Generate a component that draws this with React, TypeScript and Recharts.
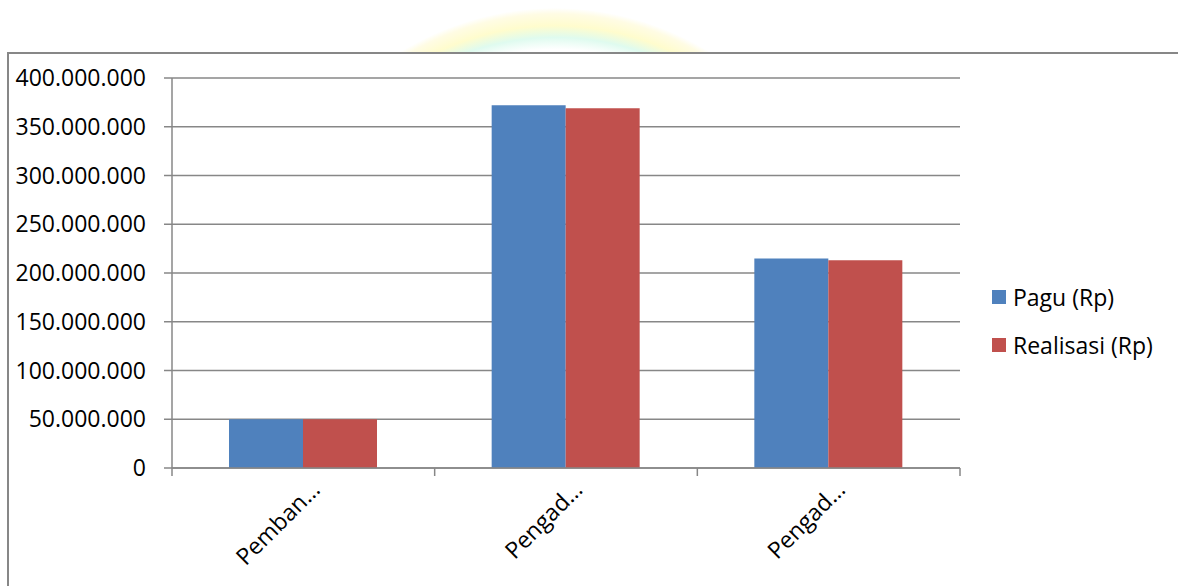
import React from 'react';
import { BarChart, Bar, XAxis, YAxis, CartesianGrid } from 'recharts';

const categories = ['Pemban…', 'Pengad…', 'Pengad…'];
const paguValues = [50000000, 372000000, 215000000];
const realisasiValues = [50000000, 369000000, 213000000];
const yTicks = [0, 50000000, 100000000, 150000000, 200000000, 250000000, 300000000, 350000000, 400000000];
const seriesNames = ['Pagu (Rp)', 'Realisasi (Rp)'];
const seriesColors = ['#4F81BD', '#C0504D'];

const data = categories.map((c, i) => ({ id: String(i), label: c, pagu: paguValues[i], realisasi: realisasiValues[i] }));

const FONT = '"Open Sans", "Liberation Sans", sans-serif';
const GRID = '#878787';

const fmt = (v: number) => String(v).replace(/\B(?=(\d{3})+(?!\d))/g, '.');

const XTick = (props: any) => {
  const { x, y, payload, index, visibleTicksCount, width } = props;
  let half = payload && payload.offset ? payload.offset : 0;
  if (!half) half = width / (visibleTicksCount || 3) / 2;
  const label = categories[Number(payload.value)];
  const isLast = index === (visibleTicksCount || 3) - 1;
  return (
    <g>
      <line x1={x - half} x2={x - half} y1={y} y2={y + 8} stroke={GRID} strokeWidth={1.5} />
      {isLast && <line x1={x + half} x2={x + half} y1={y} y2={y + 8} stroke={GRID} strokeWidth={1.5} />}
      <text
        x={x + 18}
        y={y + 23}
        textAnchor="end"
        transform={`rotate(-45, ${x + 18}, ${y + 23})`}
        fill="#000"
        fontSize={23}
        fontFamily={FONT}
      >
        {label}
      </text>
    </g>
  );
};

export default function App() {
  return (
    <div style={{ position: 'absolute', left: 0, top: 0, width: 1178, height: 586, overflow: 'hidden', background: '#fff' }}>
      <div
        style={{
          position: 'absolute',
          left: 260,
          top: 8,
          width: 590,
          height: 590,
          borderRadius: '50%',
          background:
            'radial-gradient(circle closest-side, rgba(255,255,255,0) 86%, rgba(215,250,235,0.8) 90%, rgba(255,252,200,0.9) 94%, rgba(255,250,210,0.6) 98%, rgba(255,255,255,0) 100%)',
        }}
      />
      <div
        style={{
          position: 'absolute',
          left: 7,
          top: 52,
          width: 1200,
          height: 600,
          borderTop: `2px solid ${GRID}`,
          borderLeft: `2px solid ${GRID}`,
          background: '#fff',
        }}
      />
      <div style={{ position: 'absolute', left: 0, top: 0 }}>
        <BarChart
          width={1178}
          height={586}
          data={data}
          margin={{ top: 78, right: 218, bottom: 18, left: 0 }}
          barCategoryGap="21.7%"
          barGap={0}
        >
          <CartesianGrid vertical={false} stroke={GRID} strokeWidth={1.5} />
          <XAxis
            dataKey="id"
            height={100}
            tickLine={false}
            tickSize={0}
            tickMargin={0}
            axisLine={{ stroke: GRID, strokeWidth: 1.5 }}
            tick={<XTick />}
            interval={0}
          />
          <YAxis
            width={172}
            domain={[0, 400000000]}
            ticks={yTicks}
            interval={0}
            tickFormatter={fmt}
            tickSize={8}
            tickMargin={18}
            tickLine={{ stroke: GRID, strokeWidth: 1.5 }}
            axisLine={{ stroke: GRID, strokeWidth: 1.5 }}
            tick={{ fill: '#000', fontSize: 23, fontFamily: FONT }}
          />
          <Bar dataKey="pagu" name={seriesNames[0]} fill={seriesColors[0]} isAnimationActive={false} />
          <Bar dataKey="realisasi" name={seriesNames[1]} fill={seriesColors[1]} isAnimationActive={false} />
        </BarChart>
      </div>
      <div style={{ position: 'absolute', left: 992, top: 283, fontFamily: FONT, fontSize: 23, color: '#000' }}>
        {seriesNames.map((n, i) => (
          <div key={n} style={{ display: 'flex', alignItems: 'center', height: 28, marginBottom: 20 }}>
            <span style={{ display: 'inline-block', width: 14, height: 14, background: seriesColors[i], marginRight: 7 }} />
            <span style={{ lineHeight: '28px' }}>{n}</span>
          </div>
        ))}
      </div>
    </div>
  );
}
